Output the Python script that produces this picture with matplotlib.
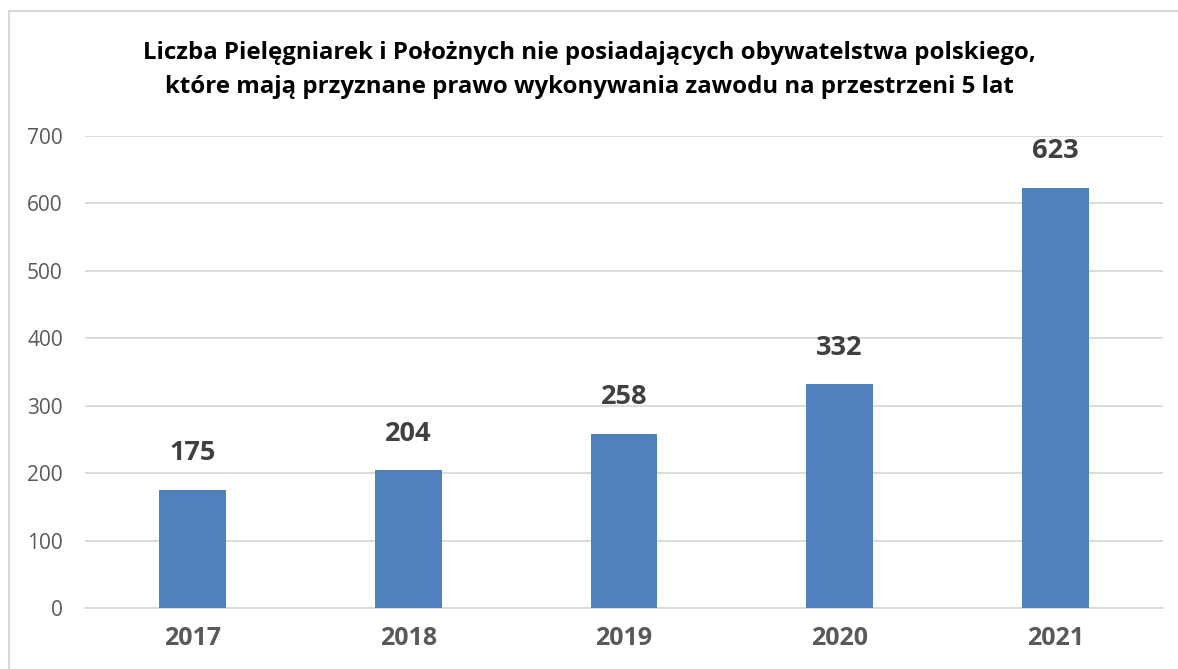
import matplotlib.pyplot as plt
from matplotlib.lines import Line2D

years = ['2017', '2018', '2019', '2020', '2021']
counts = [175, 204, 258, 332, 623]
y_ticks = [0, 100, 200, 300, 400, 500, 600, 700]

TITLE = ('Liczba Pielęgniarek i Położnych nie posiadających obywatelstwa polskiego,\n'
         'które mają przyznane prawo wykonywania zawodu na przestrzeni 5 lat')

BAR_COLOR = '#4f81bd'
GRID_COLOR = '#d9d9d9'

plt.rcParams['font.family'] = ['Open Sans', 'DejaVu Sans']

fig = plt.figure(figsize=(11.78, 6.69), dpi=100)
ax = fig.add_axes([85 / 1178, 1 - 608 / 669, (1163 - 85) / 1178, (608 - 136) / 669])

x = list(range(len(years)))
ax.bar(x, counts, width=0.31, color=BAR_COLOR, zorder=3)

for xi, v in zip(x, counts):
    ax.annotate(str(v), (xi, v), xytext=(0, 17), textcoords='offset points',
                ha='center', va='bottom', fontsize=19.5, fontweight='bold',
                color='#404040')

ax.set_xlim(-0.5, len(years) - 0.5)
ax.set_ylim(0, 700)
ax.set_yticks(y_ticks)
ax.set_xticks(x)
ax.set_xticklabels(years, fontsize=18, fontweight='bold', color='#595959')
ax.tick_params(axis='y', labelsize=15, labelcolor='#595959', length=0, pad=16)
ax.tick_params(axis='x', length=0, pad=13)
ax.grid(axis='y', color=GRID_COLOR, linewidth=1.3, zorder=0)
for side in ['top', 'right', 'left']:
    ax.spines[side].set_visible(False)
ax.spines['bottom'].set_color(GRID_COLOR)
ax.spines['bottom'].set_linewidth(1.3)

fig.text(0.5, 1 - 70 / 669, TITLE, ha='center', va='center', fontsize=17.3,
         fontweight='bold', color='black', linespacing=1.55)

# chart frame (top and left edges visible)
fig.add_artist(Line2D([9 / 1178, 9 / 1178], [0, 1 - 11 / 669], color=GRID_COLOR,
                      linewidth=1.5, transform=fig.transFigure))
fig.add_artist(Line2D([9 / 1178, 1], [1 - 11 / 669, 1 - 11 / 669], color=GRID_COLOR,
                      linewidth=1.5, transform=fig.transFigure))

fig.savefig('out.png', dpi=100)
